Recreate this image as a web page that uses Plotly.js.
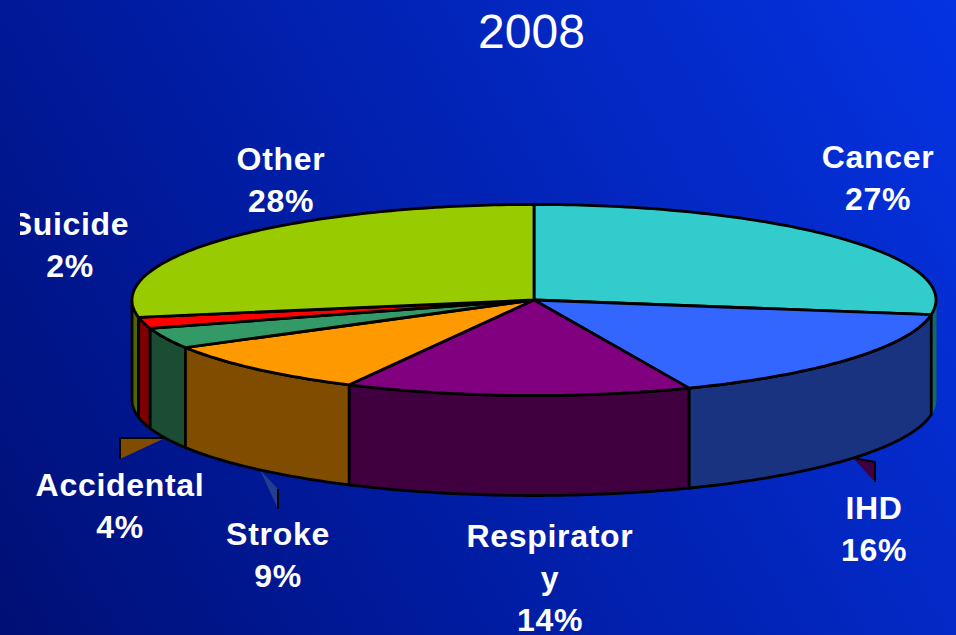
<!DOCTYPE html>
<html><head><meta charset="utf-8">
<script src="https://cdn.plot.ly/plotly-3.0.1.min.js"></script>
<style>
html,body{margin:0;padding:0;width:956px;height:635px;overflow:hidden;
background:linear-gradient(60deg,#000f74 0%,#001a9c 32%,#0533e2 100%);}
#chart{width:956px;height:635px;}
.textpoint text{letter-spacing:0.7px;}
</style></head><body><div id="chart"></div>
<script>
const categories = ['Cancer','IHD','Respiratory','Stroke','Accidental','Suicide','Other'];
const shares = [27.45,16.25,13.9,9.1,3.5,1.9,27.9];
const labelLines = ['Cancer','IHD','Respirator<br>y','Stroke','Accidental','Suicide','Other'];
const topColors = ['#33CCCC','#3366FF','#800080','#FF9900','#339966','#FF0000','#99CC00'];
const sideColors = ['#1A6666','#1A3380','#400040','#804D00','#1A4D33','#800000','#4D6600'];
const labelX = [878,874,550,278,120,70,281];
const labelY = [181,532,581,558,509,248,183];

const cx=534, cy=300, rx=402, ry=95.5, depth=100;
const px=t=>cx+rx*Math.sin(t), py=t=>cy-ry*Math.cos(t);
const arc=(a,b)=>{const n=Math.max(2,Math.ceil(Math.abs(b-a)*60)),r=[];
  for(let i=0;i<=n;i++)r.push(a+(b-a)*i/n);return r;};
const HALF=Math.PI/2, FULL=Math.PI*2;
let traces=[], acc=0;
const bounds=shares.map(v=>{const a=acc;acc+=v;return [a/100*FULL,acc/100*FULL];});
const base={type:'scatter',mode:'lines',fill:'toself',hoverinfo:'skip',showlegend:false,cliponaxis:false,
  line:{color:'#000',width:2.8,simplify:false}};

// visible side walls: the front half of the rim, back to front
const walls=[];
bounds.forEach(([a,b],i)=>{
  const s=Math.max(a,HALF), e=Math.min(b,3*HALF);
  if(e>s) walls.push({s,e,i});
});
walls.sort((p,q)=>Math.abs((p.s+p.e)/2-Math.PI)<Math.abs((q.s+q.e)/2-Math.PI)?1:-1);
walls.forEach(({s,e,i})=>{
  const t=arc(s,e), r=t.slice().reverse();
  traces.push(Object.assign({},base,{name:categories[i]+' side',
    x:t.map(px).concat(r.map(px),[px(s)]),
    y:t.map(py).concat(r.map(v=>py(v)+depth),[py(s)]),
    fillcolor:sideColors[i],
    line:i===0?{color:sideColors[i],width:1}:base.line}));
});
// top faces
bounds.forEach(([a,b],i)=>{
  const t=arc(a,b);
  traces.push(Object.assign({},base,{name:categories[i],
    x:[cx].concat(t.map(px),[cx]), y:[cy].concat(t.map(py),[cy]),
    fillcolor:topColors[i]}));
});
// labels
traces.push({type:'scatter',mode:'text',hoverinfo:'skip',showlegend:false,cliponaxis:true,
  x:labelX,y:labelY,
  text:labelLines.map((l,i)=>l+'<br>'+Math.round(shares[i])+'%'),
  textposition:'middle center',
  textfont:{family:'"Liberation Sans",Arial,sans-serif',size:32,color:'#fff',weight:700}});

const keys=[
 {path:'M120,438 L165,438 L120,459 Z',fill:'#804D00',edge:'M120,459 L120,438 L165,438'},
 {path:'M260,470 L278,489 L278,509 Z',fill:'#1F3F8F',edge:'M278,489 L278,509'},
 {path:'M853,458 L875,462 L875,482 Z',fill:'#400040',edge:'M853,458 L875,462 L875,482'}
];
const shapes=[];
keys.forEach(k=>{
  shapes.push({type:'path',xref:'x',yref:'y',layer:'below',path:k.path,fillcolor:k.fill,line:{width:0}});
  shapes.push({type:'path',xref:'x',yref:'y',layer:'below',path:k.edge,fillcolor:'rgba(0,0,0,0)',line:{color:'#000',width:2}});
});

Plotly.newPlot('chart',traces,{
  width:956,height:635,
  margin:{l:0,r:0,t:0,b:0},
  paper_bgcolor:'rgba(0,0,0,0)',plot_bgcolor:'rgba(0,0,0,0)',
  showlegend:false,
  title:{text:'2008',x:531.5/956,xanchor:'center',y:1-31/635,yanchor:'middle',
    font:{family:'"Liberation Sans",Arial,sans-serif',size:48,color:'#fff'}},
  xaxis:{domain:[20/956,1],range:[20,956],visible:false,fixedrange:true},
  yaxis:{domain:[0,1],range:[635,0],visible:false,fixedrange:true},
  shapes:shapes
},{staticPlot:true,displayModeBar:false});
</script></body></html>
